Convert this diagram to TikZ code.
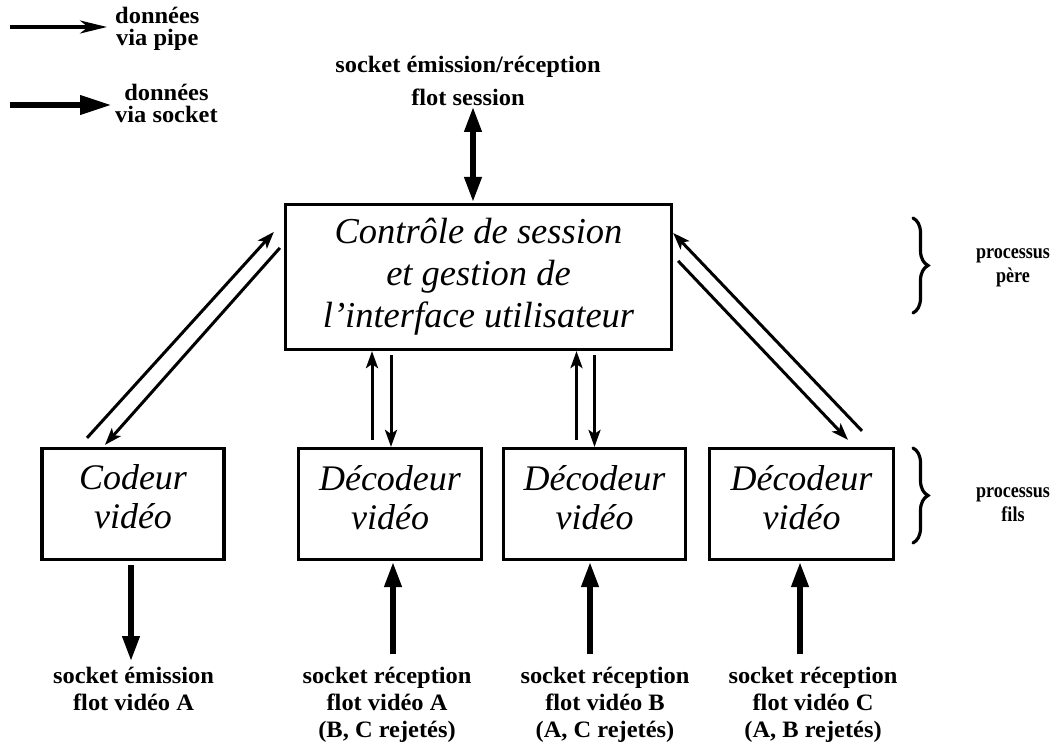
\documentclass[tikz,border=0pt]{standalone}
\usepackage{fontspec}
\setmainfont{Liberation Serif}
\newfontfamily\lblfont[FakeStretch=1.04]{Liberation Serif}
\newfontfamily\sidefont[FakeStretch=0.86]{Liberation Serif}
\usetikzlibrary{arrows.meta,calc,decorations.pathreplacing}

\begin{document}
\begin{tikzpicture}[x=1pt,y=-1pt,
  box/.style={draw,line width=3.2pt,inner sep=0pt,align=center,
    font=\fontsize{36}{39}\selectfont\itshape},
  bigbox/.style={box,font=\fontsize{36.5}{42}\selectfont\itshape},
  lbl/.style={font=\lblfont\bfseries\fontsize{23.5}{#1}\selectfont,align=center,inner sep=0pt},
  lbl/.default=27,
  sidelbl/.style={font=\sidefont\bfseries\fontsize{21}{24}\selectfont,align=center,inner sep=0pt},
  pipe/.style={line width=3pt,-{Stealth[length=17pt,width=12pt,inset=4pt]}},
  sock/.style={line width=6.5pt,-{Triangle[length=26pt,width=16pt]}},
  sockboth/.style={line width=6.5pt,{Triangle[length=26pt,width=16pt]}-{Triangle[length=26pt,width=16pt]}},
  brc/.style={decorate,decoration={brace,amplitude=15pt},line width=3.2pt,line cap=round},
]
\useasboundingbox (0,0) rectangle (1051,749);

% legend
\coordinate (lgp) at (10,27);
\node[lbl=22,anchor=north west] (lg1) at (115,7) {données\\via pipe};
\draw[line width=3.2pt,-{Stealth[length=27pt,width=13pt,inset=8pt]},shorten >=8pt]
  (lgp) -- (lgp -| lg1.west);
\coordinate (lgs) at (10,105);
\node[lbl=22,anchor=north west] (lg2) at (115,84) {données\\via socket};
\draw[line width=6.5pt,-{Triangle[length=32pt,width=18pt]},shorten >=3pt]
  (lgs) -- (lgs -| lg2.west);

% processes
\node[bigbox,minimum width=386pt,minimum height=145pt] (ctrl) at (478.5,277)
  {Contrôle de session\\et gestion de\\l’interface utilisateur};
\node[box,minimum width=182pt,minimum height=111pt,text depth=14pt] (cod) at (133,504) {Codeur\\vidéo};
\node[box,minimum width=183pt,minimum height=111pt,text depth=14pt] (dec1) at (390,504) {Décodeur\\vidéo};
\node[box,minimum width=182pt,minimum height=111pt,text depth=14pt] (dec2) at (594.5,504) {Décodeur\\vidéo};
\node[box,minimum width=184pt,minimum height=111pt,text depth=14pt] (dec3) at (801.5,504) {Décodeur\\vidéo};

% socket labels
\node[lbl=33,anchor=north] (top) at (468,56) {socket émission/réception\\flot session};
\node[lbl,anchor=north] (lab1) at (133.5,667) {socket émission\\flot vidéo A};
\node[lbl,anchor=north] (lab2) at (387,667) {socket réception\\flot vidéo A\\(B, C rejetés)};
\node[lbl,anchor=north] (lab3) at (605,667) {socket réception\\flot vidéo B\\(A, C rejetés)};
\node[lbl,anchor=north] (lab4) at (813,667) {socket réception\\flot vidéo C\\(A, B rejetés)};

% side labels
\node[sidelbl] (pere) at (1013,268) {processus\\père};
\node[sidelbl] (fils) at (1013,505) {processus\\fils};
\draw[brc] (913,218) -- (913,313);
\draw[brc] (913,448) -- (913,543);

% session socket
\draw[sockboth] ([xshift=-5.5pt]ctrl.north) -- ([xshift=-5.5pt]ctrl.north |- top.south);

% pipes: coder <-> control
\draw[pipe] ($(cod.north)+(-46,-9)$) -- ($(ctrl.north west)+(-10,29)$);
\draw[pipe] ($(ctrl.north west)+(-4,45)$) -- ($(cod.north)+(-28,-2)$);
% pipes: decoders 1 and 2 <-> control
\draw[pipe,shorten <=7pt] ([xshift=-18pt]dec1.north) -- ([xshift=-18pt]dec1.north |- ctrl.south);
\draw[pipe,shorten <=4pt] ([xshift=1pt]dec1.north |- ctrl.south) -- ([xshift=1pt]dec1.north);
\draw[pipe,shorten <=7pt] ([xshift=-18pt]dec2.north) -- ([xshift=-18pt]dec2.north |- ctrl.south);
\draw[pipe,shorten <=4pt] (dec2.north |- ctrl.south) -- (dec2.north);
% pipes: decoder 3 <-> control
\draw[pipe] ($(dec3.north)+(60.5,-16)$) -- ($(ctrl.north east)+(0,30)$);
\draw[pipe] ($(ctrl.north east)+(5,58)$) -- ($(dec3.north)+(46.5,-7)$);

% video sockets
\draw[sock,shorten <=4pt,shorten >=5pt] ([xshift=-2pt]cod.south) -- ([xshift=-2pt]cod.south |- lab1.north);
\draw[sock,shorten <=13pt] ([xshift=3pt]dec1.south |- lab2.north) -- ([xshift=3pt]dec1.south);
\draw[sock,shorten <=13pt] ([xshift=-4.5pt]dec2.south |- lab3.north) -- ([xshift=-4.5pt]dec2.south);
\draw[sock,shorten <=13pt] ([xshift=-1.5pt]dec3.south |- lab4.north) -- ([xshift=-1.5pt]dec3.south);
\end{tikzpicture}
\end{document}
